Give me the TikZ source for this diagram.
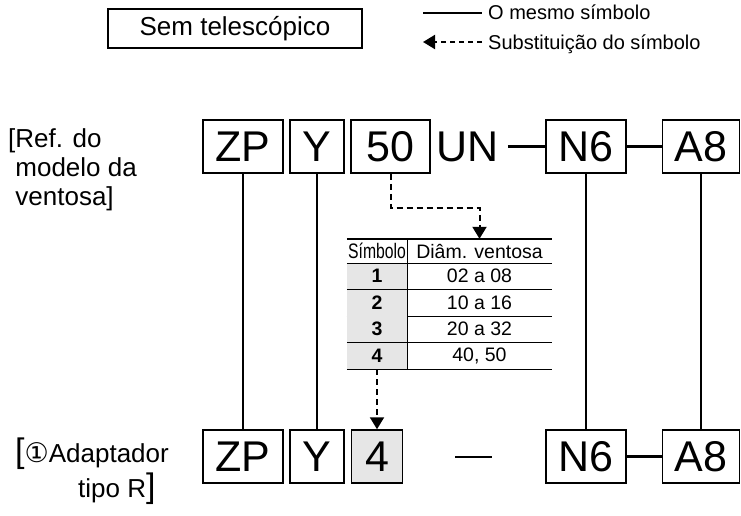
\documentclass[tikz,border=0pt]{standalone}
\usepackage{fontspec}
\setmainfont{Liberation Sans}
\newfontfamily\circfont{DejaVu Sans}
\usepackage{graphicx}
\usetikzlibrary{positioning,arrows.meta,calc}
\definecolor{cellgray}{HTML}{E6E6E6}

\begin{document}
\begin{tikzpicture}[x=1pt, y=-1pt,
    box/.style={draw, line width=1.5pt, minimum height=53pt, inner xsep=12pt, inner ysep=0pt, font=\fontsize{43}{43}\selectfont},
    link/.style={line width=1.3pt},
    joint/.style={line width=2.4pt},
    subst/.style={line width=2pt, dash pattern=on 6pt off 4pt, -{Triangle[width=14pt,length=12pt]}},
    lbl/.style={inner sep=0pt, align=left, anchor=base west},
    legtxt/.style={font=\fontsize{20}{20}\selectfont, inner sep=0pt, anchor=base west},
    cell/.style={minimum height=26.5pt, inner sep=0pt, font=\fontsize{19.5}{19.5}\selectfont}
]
\useasboundingbox (0,0) rectangle (741,515);

% Note and legend
\node[draw, line width=1.2pt, minimum width=254pt, minimum height=39pt, font=\fontsize{26}{26}\selectfont] (note) at (235,28.5) {Sem telescópico};

\coordinate (same1) at (423,13);
\coordinate (same2) at (482,13);
\draw[line width=1.8pt] (same1) -- (same2);
\node[legtxt] (samet) at (488,19) {O mesmo símbolo};

\coordinate (subst1) at (482,42);
\coordinate (subst2) at (423,42);
\draw[subst, dash pattern=on 5pt off 4pt] (subst1) -- (subst2);
\node[legtxt] (substt) at (488,49) {Substituição do símbolo};

% Labels
\node[lbl, font=\fontsize{26}{29}\selectfont] (reflbl) at (8,205) {[Ref. do\\\phantom{[}modelo da\\\phantom{[}ventosa]};
\node[lbl, font=\fontsize{26}{26}\selectfont] (adplbl) at (15,462) {{\fontsize{34}{34}\selectfont[}{\circfont\fontsize{27}{27}\selectfont ①}Adaptador};
\node[lbl, font=\fontsize{26}{26}\selectfont] (tipolbl) at (78,497) {tipo R{\fontsize{34}{34}\selectfont]}};

% Suction cup model
\node[box, minimum width=80pt] (zp1) at (243,146.5) {ZP};
\node[box, minimum width=54pt] (y1) at (317,146.5) {Y};
\node[box, minimum width=79pt] (s50) at (390.5,146.5) {50};
\node[inner xsep=9pt, font=\fontsize{43}{43}\selectfont] (un) at (467.5,146.5) {UN};
\node[box, minimum width=80pt] (n61) at (586,146.5) {N6};
\node[box, minimum width=77pt] (a81) at (701,146.5) {A8};

\draw[joint] (un) -- (n61);
\draw[joint] (n61) -- (a81);

% Adapter model
\node[box, minimum width=80pt] (zp2) at (243,456.5) {ZP};
\node[box, minimum width=54pt] (y2) at (317,456.5) {Y};
\node[box, minimum width=51pt, fill=cellgray] (b4) at (377,456.5) {4};
\coordinate (dash1) at (455,457);
\coordinate (dash2) at (492,457);
\draw[joint] (dash1) -- (dash2);
\node[box, minimum width=80pt] (n62) at (586,456.5) {N6};
\node[box, minimum width=77pt] (a82) at (701,456.5) {A8};

\draw[joint] (n62) -- (a82);

\foreach \a in {zp,y,n6,a8}
    \draw[link] (\a1.south) -- (\a2.north);

% Table
\node[cell, minimum height=24pt, minimum width=60pt] (hsym) at (377,251) {\fontsize{21}{21}\selectfont\scalebox{0.75}[1]{Símbolo}};
\node[cell, minimum height=24pt, minimum width=145pt] (hdia) at (479.5,251) {Diâm. ventosa};
\foreach \r/\v [count=\i] in {1/02 a 08, 2/10 a 16, 3/20 a 32, 4/{40, 50}} {
    \pgfmathsetmacro{\yy}{276.25+26.5*(\i-1)}
    \node[cell, minimum width=60pt, fill=cellgray] (sym\r) at (377,\yy) {\textbf{\r}};
    \node[cell, minimum width=145pt] (dia\r) at (479.5,\yy) {\v};
    \draw[line width=1pt] (sym\r.south west) -- (dia\r.south east);
}
\draw[line width=2pt] (hsym.north west) -- (hdia.north east);
\draw[line width=1pt] (hsym.south west) -- (hdia.south east);
\draw[line width=1pt] (hsym.north east) -- (sym4.south east);

% Substitution
\draw[subst] (s50.south) -- ++(0,34) -| (hdia.north);
\draw[subst] (sym4.south) -- (b4.north);
\end{tikzpicture}
\end{document}
